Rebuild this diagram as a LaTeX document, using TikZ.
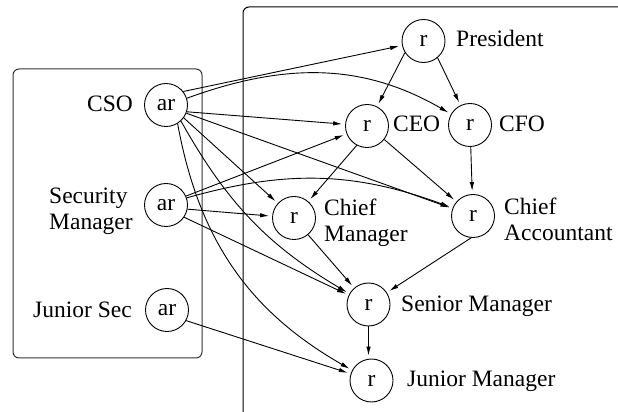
\documentclass[tikz,border=0pt]{standalone}
\usepackage{fontspec}
\setmainfont{Liberation Serif}
\usetikzlibrary{arrows.meta,calc}
\begin{document}
\begin{tikzpicture}[x=1pt,y=1pt,
  every node/.style={font=\fontsize{23.5}{26}\selectfont},
  role/.style={circle,draw,line width=0.9pt,minimum size=43pt,inner sep=0pt},
  lbl/.style={inner sep=0pt},
  lblm/.style={inner sep=0pt,align=left},
  grant/.style={line width=0.9pt,-{Latex[length=9pt,width=4.5pt]},shorten >=3pt},
  group/.style={rounded corners=6pt,line width=1pt}]
\useasboundingbox (0,0) rectangle (618,412);
\clip (0,0) rectangle (618,412);

% groups
\draw[group,black!80] (13,54) rectangle (202,343);
\draw[group] (243,405) rectangle (640,-20);

% administrative roles
\node[role] (cso)  at (166,307) {ar};
\node[role] (secm) at (166,207) {ar};
\node[role] (jsec) at (167,102) {ar};

% regular roles
\node[role] (pres)  at (423.5,371) {r};
\node[role] (ceo)   at (367,286) {r};
\node[role] (cfo)   at (470,287) {r};
\node[role] (chm)   at (294,194) {r};
\node[role] (chacc) at (473,196) {r};
\node[role] (senm)  at (368.5,107.5) {r};
\node[role] (junm)  at (371.5,31.5) {r};

% role names
\node[lbl,anchor=base east] (csol)  at (133,300) {CSO};
\node[lblm,anchor=north west] (secml) at (49,224) {Security\\Manager};
\node[lbl,anchor=base east] (jsecl) at (132,94) {Junior Sec};
\node[lbl,anchor=base west] (presl) at (456,365) {President};
\node[lbl,anchor=base west] (ceol)  at (393,280) {CEO};
\node[lbl,anchor=base west] (cfol)  at (499,280) {CFO};
\node[lblm,anchor=north west] (chml) at (324,213) {Chief\\Manager};
\node[lblm,anchor=north west] (chaccl) at (504,214) {Chief\\Accountant};
\node[lbl,anchor=base west] (senml) at (401,100) {Senior Manager};
\node[lbl,anchor=base west] (junml) at (407,25) {Junior Manager};

% role hierarchy
\draw[grant] (pres.-148) -- (ceo);
\draw[grant] (pres.-50) -- (cfo);
\draw[grant] (cfo) -- (chacc);
\draw[grant] (ceo.-118) -- (chm);
\draw[grant] (ceo.-38) -- (chacc);
\draw[grant] (chm.-50) -- (senm);
\draw[grant] (chacc.-95) -- (senm);
\draw[grant] (senm.south) -- (senm.south |- junm.north);

% administrative ranges
\draw[grant] (cso.38) -- (pres);
\draw[grant] (cso.18) to[out=20,in=150] (cfo);
\draw[grant] (cso.-18) -- (ceo);
\draw[grant] (cso.-22) -- (chacc);
\draw[grant] (cso.-36) -- (chm);
\draw[grant] (cso.-47) to[bend right=15] (senm);
\draw[grant] (cso.-58) to[bend right=25] (junm);
\draw[grant] (secm.24) -- (ceo);
\draw[grant] (secm.19) to[bend left=18] (chacc);
\draw[grant] (secm.-11) -- (chm);
\draw[grant] (secm.-34) -- (senm);
\draw[grant] (jsec.-29) -- (junm);
\end{tikzpicture}
\end{document}
